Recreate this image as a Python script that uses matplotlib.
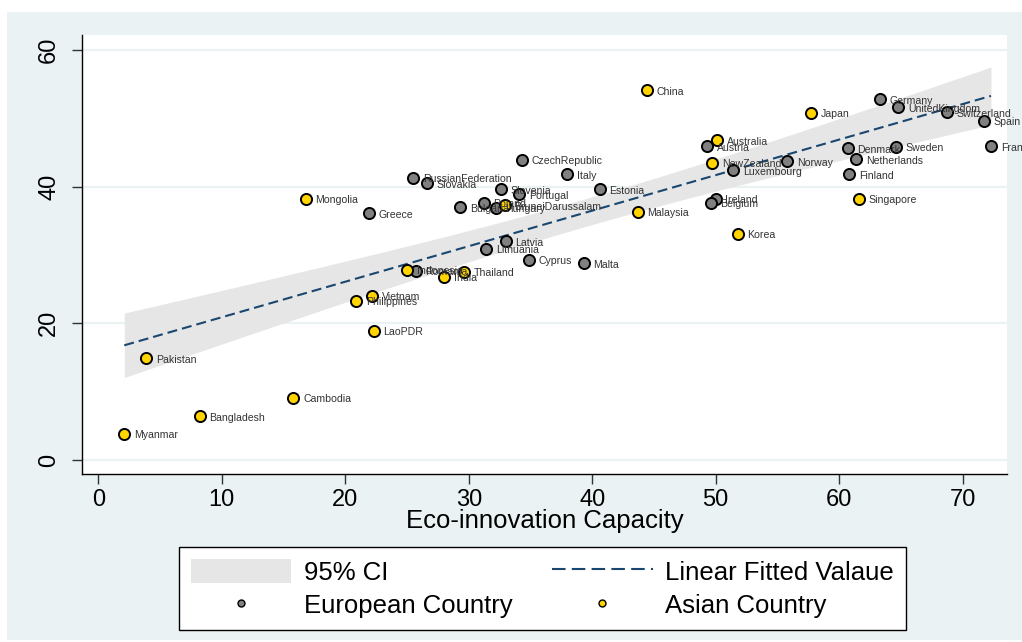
import numpy as np
import matplotlib
matplotlib.use("Agg")
import matplotlib.pyplot as plt
from matplotlib.patches import Patch, Rectangle
from matplotlib.lines import Line2D

plt.rcParams['font.family'] = ['Liberation Sans', 'DejaVu Sans']

# European countries: (eco-innovation capacity, y value)
eu_names = ['Germany', 'UnitedKingdom', 'Switzerland', 'Spain', 'France', 'Sweden',
            'Denmark', 'Netherlands', 'Finland', 'Norway', 'Luxembourg', 'Austria',
            'Ireland', 'Belgium', 'CzechRepublic', 'Italy', 'Estonia', 'RussianFederation',
            'Slovakia', 'Slovenia', 'Portugal', 'Bulgaria', 'Poland', 'Hungary',
            'Latvia', 'Lithuania', 'Cyprus', 'Malta', 'Greece', 'Romania']
eu_x = [63.3, 64.8, 68.7, 71.7, 72.3, 64.6, 60.7, 61.4, 60.8, 55.8, 51.4, 49.3,
        50.0, 49.6, 34.3, 38.0, 40.6, 25.5, 26.6, 32.6, 34.1, 29.3, 31.2, 32.2,
        33.0, 31.4, 34.9, 39.3, 21.9, 25.7]
eu_y = [52.8, 51.6, 50.9, 49.6, 45.9, 45.8, 45.6, 44.0, 41.8, 43.7, 42.4, 45.9,
        38.2, 37.6, 43.9, 41.8, 39.6, 41.3, 40.5, 39.6, 38.9, 37.0, 37.6, 36.9,
        32.0, 30.9, 29.3, 28.8, 36.1, 27.7]

# Asian countries
as_names = ['China', 'Japan', 'Australia', 'NewZealand', 'Singapore', 'Malaysia',
            'Korea', 'Mongolia', 'BruneiDarussalam', 'Thailand', 'India', 'Indonesia',
            'Vietnam', 'Philippines', 'LaoPDR', 'Pakistan', 'Cambodia', 'Bangladesh',
            'Myanmar']
as_x = [44.4, 57.7, 50.1, 49.7, 61.6, 43.7, 51.8, 16.8, 32.9, 29.6, 28.0, 25.0,
        22.2, 20.9, 22.3, 3.9, 15.8, 8.2, 2.1]
as_y = [54.1, 50.8, 46.8, 43.5, 38.2, 36.3, 33.1, 38.2, 37.3, 27.5, 26.8, 27.8,
        24.0, 23.3, 18.9, 14.9, 9.1, 6.4, 3.8]

# linear fit + 95% CI of the mean
x_all = np.array(eu_x + as_x)
y_all = np.array(eu_y + as_y)
n = len(x_all)
b, a = np.polyfit(x_all, y_all, 1)
resid = y_all - (a + b * x_all)
s = np.sqrt(np.sum(resid ** 2) / (n - 2))
sxx = np.sum((x_all - x_all.mean()) ** 2)
xs = np.linspace(x_all.min(), x_all.max(), 200)
fit = a + b * xs
half = 2.012 * s * np.sqrt(1.0 / n + (xs - x_all.mean()) ** 2 / sxx)

fig = plt.figure(figsize=(10.22, 6.42), dpi=100, facecolor='white')
fig.patches.append(Rectangle((7 / 1022, 2 / 642), 1 - 7 / 1022, 1 - 14 / 642,
                             transform=fig.transFigure, facecolor='#EAF2F3',
                             edgecolor='none', zorder=-10))
ax = fig.add_axes([82.3 / 1022, 1 - 474 / 642, (1007 - 82.3) / 1022, (474 - 35) / 642])
ax.set_facecolor('white')

ax.fill_between(xs, fit - half, fit + half, color='#E6E6E6', lw=0, zorder=2)
ax.plot(xs, fit, color='#1A476F', lw=1.5, dashes=(4.8, 2.4), zorder=3)

ax.scatter(eu_x, eu_y, s=64, c='#808080', edgecolors='black', linewidths=1.4, zorder=4)
ax.scatter(as_x, as_y, s=64, c='#FFD400', edgecolors='black', linewidths=1.4, zorder=4)

for nm, xv, yv in zip(eu_names + as_names, eu_x + as_x, eu_y + as_y):
    ax.annotate(nm, (xv, yv), xytext=(7, -1), textcoords='offset points',
                va='center', ha='left', fontsize=7.6, color='#333333', zorder=5,
                annotation_clip=False)

ax.set_xlim(-1.3, 73.6)
ax.set_ylim(-2.05, 62.2)
ax.set_xticks(range(0, 71, 10))
ax.set_yticks([0, 20, 40, 60])
ax.tick_params(axis='both', direction='out', length=7, width=1, labelsize=17, color='#333333')
ax.tick_params(axis='y', labelrotation=90, pad=9)
for lab in ax.get_yticklabels():
    lab.set_va('center')
ax.yaxis.grid(True, color='#EAF2F3', lw=1.6, zorder=1)
ax.set_axisbelow(True)
for sp in ['top', 'right']:
    ax.spines[sp].set_visible(False)
for sp in ['left', 'bottom']:
    ax.spines[sp].set_color('black')
    ax.spines[sp].set_linewidth(1)
ax.set_xlabel('Eco-innovation Capacity', fontsize=18.5, labelpad=-1)

handles = [Patch(facecolor='#E6E6E6', edgecolor='none'),
           Line2D([], [], marker='o', ls='none', markersize=5, markerfacecolor='#808080',
                  markeredgecolor='black'),
           Line2D([], [], color='#1A476F', lw=1.5, dashes=(6.5, 3)),
           Line2D([], [], marker='o', ls='none', markersize=5, markerfacecolor='#FFD400',
                  markeredgecolor='black')]
labels = ['95% CI', 'European Country', 'Linear Fitted Valaue', 'Asian Country']
leg = fig.legend(handles, labels, ncol=2, loc='center', bbox_to_anchor=(542.5 / 1022, 1 - 588.5 / 642),
                 fontsize=18.5, frameon=True, fancybox=False, edgecolor='black', facecolor='white',
                 framealpha=1, handlelength=3.9, handleheight=1.1, handletextpad=0.5,
                 columnspacing=1.55, labelspacing=0.3, borderpad=0.45)
leg.get_frame().set_linewidth(1)

fig.savefig('out.png', dpi=100, facecolor='white')
